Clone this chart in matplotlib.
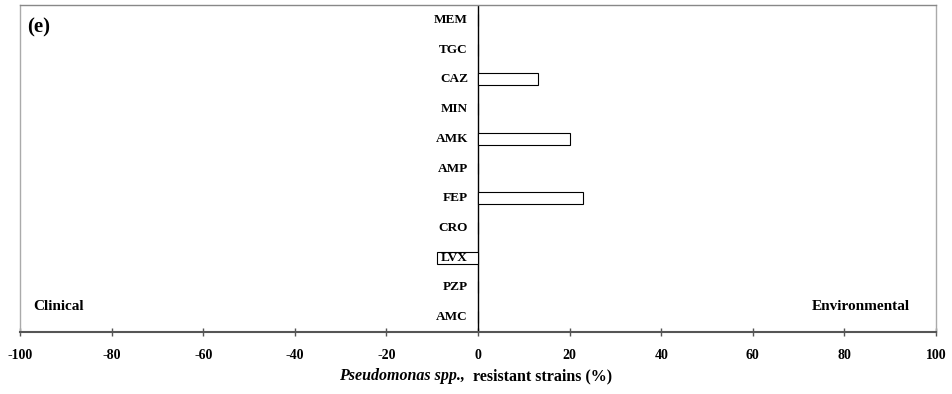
import matplotlib.pyplot as plt

plt.rcParams['font.family'] = ['Liberation Serif', 'DejaVu Serif']

drugs = ['MEM', 'TGC', 'CAZ', 'MIN', 'AMK', 'AMP', 'FEP', 'CRO', 'LVX', 'PZP', 'AMC']
# negative = clinical, positive = environmental
resistant = [0, 0, 13, 0, 20, 0, 23, 0, -9, 0, 0]
xticks = [-100, -80, -60, -40, -20, 0, 20, 40, 60, 80, 100]

fig = plt.figure(figsize=(9.52, 3.94), dpi=100)
ax = fig.add_axes([20 / 952, 62 / 394, 916 / 952, 327 / 394])

pos = list(range(len(drugs)))[::-1]
ax.barh(pos, resistant, height=0.4, color='white', edgecolor='black', linewidth=0.8, zorder=3)
ax.axvline(0, color='black', linewidth=1.0, zorder=2)

ax.set_xlim(-100, 100)
ax.set_ylim(-0.5, len(drugs) - 0.5)
ax.set_yticks([])
ax.set_xticks(xticks)
ax.set_xticklabels([str(t) for t in xticks], fontweight='bold', fontsize=10)
ax.tick_params(axis='x', direction='inout', length=6, width=1, color='#555555', pad=9)

for side in ['left', 'right', 'top']:
    ax.spines[side].set_color('#aaaaaa')
    ax.spines[side].set_linewidth(1.0)
ax.spines['top'].set_color('#888888')
ax.spines['bottom'].set_color('#555555')
ax.spines['bottom'].set_linewidth(1.5)

for name, p in zip(drugs, pos):
    ax.text(-2.2, p, name, ha='right', va='center', fontsize=9.5, fontweight='bold', zorder=4)

ax.text(-98.5, 9.73, '(e)', fontsize=15, fontweight='bold', va='center')
ax.text(-97, 0.35, 'Clinical', fontsize=11, fontweight='bold', va='center')
ax.text(94.3, 0.35, 'Environmental', fontsize=11, fontweight='bold', va='center', ha='right')

ylab = 18 / 394
fig.text(0.4885, ylab, 'Pseudomonas spp.,', fontsize=11.5, fontweight='bold', fontstyle='italic',
         ha='right', va='center')
fig.text(0.4885, ylab, '  resistant strains (%)', fontsize=11.5, fontweight='bold', ha='left', va='center')

fig.savefig('out.png', dpi=100)
